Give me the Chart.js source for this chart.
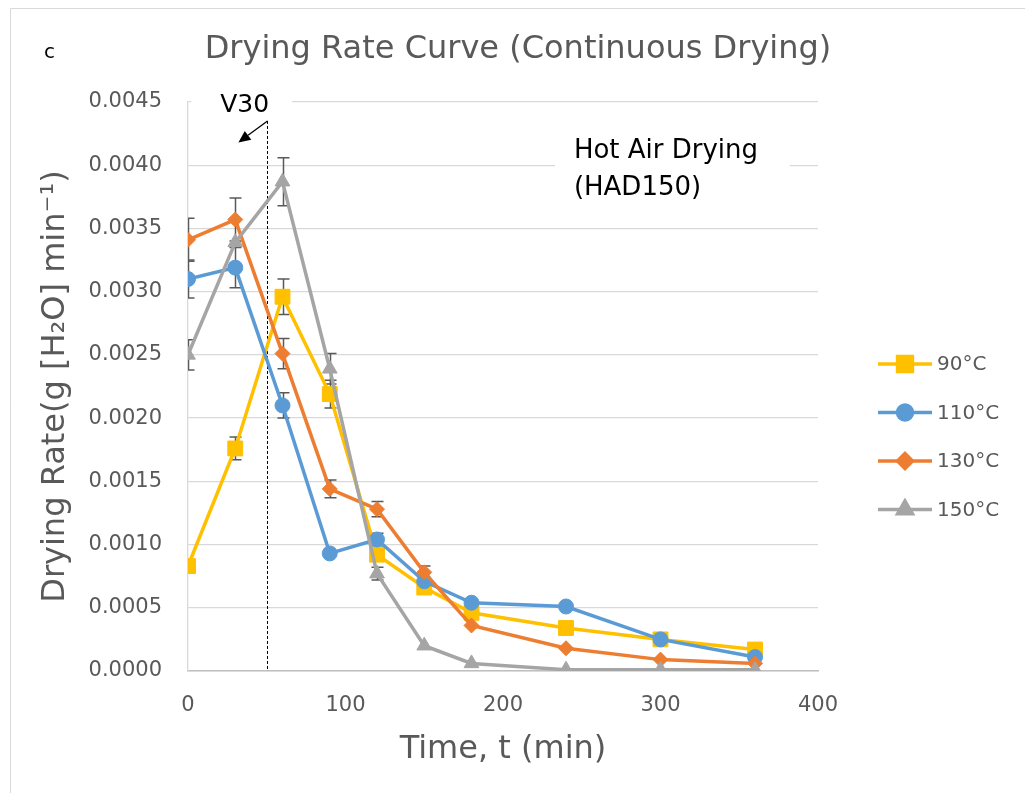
<!DOCTYPE html>
<html>
<head>
<meta charset="utf-8">
<title>Drying Rate Curve</title>
<script src="https://cdn.jsdelivr.net/npm/chart.js@4.4.0/dist/chart.umd.min.js"></script>
<style>
  html, body { margin: 0; padding: 0; background: #fff; }
</style>
</head>
<body>
<canvas id="rateChart" width="1025" height="793"></canvas>
<script>
// --- datos ---
const tiempos = [0, 30, 60, 90, 120, 150, 180, 240, 300, 360];
const series = ['90°C', '110°C', '130°C', '150°C'];

const rate90  = [0.00083, 0.00176, 0.00296, 0.00219, 0.00092, 0.00066, 0.00046, 0.00034, 0.00025, 0.00017];
const rate110 = [0.00310, 0.00319, 0.00210, 0.00093, 0.00104, 0.00071, 0.00054, 0.00051, 0.00025, 0.00011];
const rate130 = [0.00341, 0.00357, 0.00251, 0.00144, 0.00128, 0.00078, 0.00036, 0.00018, 0.00009, 0.00006];
const rate150 = [0.00250, 0.00339, 0.00387, 0.00239, 0.00077, 0.00020, 0.00006, 0.00001, 0.00001, 0.00001];

// barras de error (+/-)
const err90  = [0, 0.00009, 0.00014, 0.00011, 0, 0, 0, 0, 0, 0];
const err110 = [0.00015, 0.00016, 0.00010, 0, 0.00005, 0, 0, 0, 0, 0];
const err130 = [0.00017, 0.00017, 0.00012, 0.00007, 0.00006, 0.00005, 0, 0, 0, 0];
const err150 = [0.00012, 0, 0.00019, 0.00012, 0.00005, 0, 0, 0, 0, 0];

const xTicks = [0, 100, 200, 300, 400];
const yTicks = [0, 0.0005, 0.001, 0.0015, 0.002, 0.0025, 0.003, 0.0035, 0.004, 0.0045];

const TITULO = 'Drying Rate Curve (Continuous Drying)';
const TEXT_GREY = '#595959';
Chart.defaults.font.family = "'DejaVu Sans', Verdana, sans-serif";
Chart.defaults.color = TEXT_GREY;

function toPoints(values) {
    return tiempos.map((t, i) => ({ x: t, y: values[i] }));
}

function serie(label, values, errors, color, pointStyle, radius, order) {
    return {
        label: label,
        data: toPoints(values),
        errors: errors,
        borderColor: color,
        backgroundColor: color,
        borderWidth: 3.5,
        pointStyle: pointStyle,
        pointRadius: radius,
        pointBorderWidth: 1,
        pointBackgroundColor: color,
        pointBorderColor: color,
        order: order
    };
}

// fondo blanco, marco, título y letra del panel
const marcoPlugin = {
    id: 'marco',
    beforeDraw(chart) {
        const ctx = chart.ctx;
        ctx.save();
        ctx.fillStyle = '#fff';
        ctx.fillRect(0, 0, chart.width, chart.height);
        ctx.strokeStyle = '#d9d9d9';
        ctx.lineWidth = 1;
        ctx.beginPath();
        ctx.moveTo(10.5, chart.height);
        ctx.lineTo(10.5, 8.5);
        ctx.lineTo(chart.width, 8.5);
        ctx.stroke();
        ctx.textBaseline = 'middle';
        ctx.fillStyle = '#000';
        ctx.font = "20px 'DejaVu Sans'";
        ctx.fillText('c', 44, 53);
        ctx.fillStyle = TEXT_GREY;
        ctx.font = "32px 'DejaVu Sans'";
        ctx.textAlign = 'center';
        ctx.fillText(TITULO, 518, 50);
        ctx.restore();
    }
};

// anotaciones: línea V30, flecha y cuadros de texto
const anotaciones = {
    v30: { x: 50, yTop: 0.00435 },
    arrowTo: { x: 32, y: 0.00418 },
    v30Label: { x: 36, y: 0.00447, box: [2, 66, 0.00456, 0.00440] },
    had: { x: 245, y1: 0.00411, y2: 0.00382, box: [233, 382, 0.00432, 0.00370] }
};

const anotacionesPlugin = {
    id: 'anotaciones',
    beforeDatasetsDraw(chart) {
        const ctx = chart.ctx;
        const xs = chart.scales.x, ys = chart.scales.y;
        const a = anotaciones;
        ctx.save();

        // cajas blancas
        ctx.fillStyle = '#fff';
        [a.v30Label.box, a.had.box].forEach(b => {
            const x1 = xs.getPixelForValue(b[0]), x2 = xs.getPixelForValue(b[1]);
            const y1 = ys.getPixelForValue(b[2]), y2 = ys.getPixelForValue(b[3]);
            ctx.fillRect(x1, y1, x2 - x1, y2 - y1);
        });

        // línea punteada
        const lx = Math.round(xs.getPixelForValue(a.v30.x)) + 0.5;
        const top = ys.getPixelForValue(a.v30.yTop);
        ctx.strokeStyle = '#000';
        ctx.lineWidth = 1;
        ctx.setLineDash([3, 2]);
        ctx.beginPath();
        ctx.moveTo(lx, top);
        ctx.lineTo(lx, ys.getPixelForValue(0));
        ctx.stroke();
        ctx.setLineDash([]);

        // flecha
        const ax = xs.getPixelForValue(a.arrowTo.x), ay = ys.getPixelForValue(a.arrowTo.y);
        const ang = Math.atan2(ay - top, ax - lx);
        const len = 12, half = 5.5;
        const bx = ax - Math.cos(ang) * len, by = ay - Math.sin(ang) * len;
        ctx.lineWidth = 1.3;
        ctx.beginPath();
        ctx.moveTo(lx, top);
        ctx.lineTo(bx, by);
        ctx.stroke();
        ctx.fillStyle = '#000';
        ctx.beginPath();
        ctx.moveTo(ax, ay);
        ctx.lineTo(bx - Math.sin(ang) * half, by + Math.cos(ang) * half);
        ctx.lineTo(bx + Math.sin(ang) * half, by - Math.cos(ang) * half);
        ctx.closePath();
        ctx.fill();

        // textos
        ctx.fillStyle = '#000';
        ctx.textBaseline = 'middle';
        ctx.font = "25px 'DejaVu Sans'";
        ctx.textAlign = 'center';
        ctx.fillText('V30', xs.getPixelForValue(a.v30Label.x), ys.getPixelForValue(a.v30Label.y));
        ctx.font = "26px 'DejaVu Sans'";
        ctx.textAlign = 'left';
        ctx.fillText('Hot Air Drying', xs.getPixelForValue(a.had.x), ys.getPixelForValue(a.had.y1));
        ctx.fillText('(HAD150)', xs.getPixelForValue(a.had.x), ys.getPixelForValue(a.had.y2));
        ctx.restore();
    }
};

// barras de error (recortadas al área del gráfico, como en Excel)
const erroresPlugin = {
    id: 'errores',
    beforeDatasetsDraw(chart) {
        const ctx = chart.ctx;
        const xs = chart.scales.x, ys = chart.scales.y;
        const area = chart.chartArea;
        ctx.save();
        ctx.beginPath();
        ctx.rect(area.left, area.top - 20, area.right - area.left, area.bottom - area.top + 20);
        ctx.clip();
        ctx.strokeStyle = '#595959';
        ctx.lineWidth = 1.5;
        chart.data.datasets.forEach(ds => {
            ds.data.forEach((p, i) => {
                const e = ds.errors[i];
                if (!e) return;
                const x = Math.round(xs.getPixelForValue(p.x)) + 0.5;
                const yA = ys.getPixelForValue(p.y + e);
                const yB = ys.getPixelForValue(p.y - e);
                ctx.beginPath();
                ctx.moveTo(x, yA); ctx.lineTo(x, yB);
                ctx.moveTo(x - 6, yA); ctx.lineTo(x + 6, yA);
                ctx.moveTo(x - 6, yB); ctx.lineTo(x + 6, yB);
                ctx.stroke();
            });
        });
        ctx.restore();
    }
};

// leyenda a la derecha (línea + marcador)
const leyendaPlugin = {
    id: 'leyenda',
    afterDraw(chart) {
        const ctx = chart.ctx;
        ctx.save();
        ctx.font = "20px 'DejaVu Sans'";
        ctx.textBaseline = 'middle';
        chart.data.datasets.forEach((ds, i) => {
            const y = 364 + i * 48.5;
            ctx.strokeStyle = ds.borderColor;
            ctx.lineWidth = 3.5;
            ctx.beginPath();
            ctx.moveTo(878, y); ctx.lineTo(932, y);
            ctx.stroke();
            ctx.fillStyle = ds.borderColor;
            Chart.helpers.drawPoint(ctx, {
                pointStyle: ds.pointStyle, radius: ds.pointRadius, rotation: 0, borderWidth: 1
            }, 905, y);
            ctx.fillStyle = TEXT_GREY;
            ctx.fillText(ds.label, 937, y + 1);
        });
        ctx.restore();
    }
};

function inicializarGrafico() {
    const canvas = document.getElementById('rateChart');
    new Chart(canvas, {
        type: 'line',
        data: {
            datasets: [
                serie(series[0], rate90, err90, '#FFC000', 'rect', 10.5, 4),
                serie(series[1], rate110, err110, '#5B9BD5', 'circle', 7.5, 3),
                serie(series[2], rate130, err130, '#ED7D31', 'rectRot', 7.5, 2),
                serie(series[3], rate150, err150, '#A5A5A5', 'triangle', 8.5, 1)
            ]
        },
        options: {
            responsive: false,
            animation: false,
            layout: { padding: { left: 0, right: 207, top: 102, bottom: 0 } },
            plugins: {
                legend: { display: false },
                tooltip: { enabled: false },
                title: { display: false }
            },
            scales: {
                x: {
                    type: 'linear',
                    min: 0, max: 400,
                    afterBuildTicks: s => { s.ticks = xTicks.map(v => ({ value: v })); },
                    afterFit: s => { s.height = 122; },
                    grid: { display: false, drawTicks: false },
                    border: { display: true, color: '#bfbfbf', width: 1.5 },
                    ticks: { padding: 22, color: TEXT_GREY, font: { size: 21 } },
                    title: {
                        display: true,
                        text: 'Time, t (min)',
                        color: TEXT_GREY,
                        font: { size: 32 },
                        padding: { top: 0, bottom: 24 }
                    }
                },
                y: {
                    min: 0, max: 0.0045,
                    afterBuildTicks: s => { s.ticks = yTicks.map(v => ({ value: v })); },
                    afterFit: s => { s.width = 188; },
                    grid: { color: '#d9d9d9', lineWidth: 1.3, drawTicks: false },
                    border: { display: true, color: '#d9d9d9', width: 1.3 },
                    ticks: {
                        padding: 26,
                        color: TEXT_GREY,
                        font: { size: 21 },
                        callback: v => v.toFixed(4)
                    },
                    title: {
                        display: true,
                        text: 'Drying Rate(g [H₂O] min⁻¹)',
                        color: TEXT_GREY,
                        font: { size: 32 },
                        padding: { top: 36, bottom: 0 }
                    }
                }
            }
        },
        plugins: [marcoPlugin, anotacionesPlugin, erroresPlugin, leyendaPlugin]
    });
}

document.addEventListener('DOMContentLoaded', inicializarGrafico);
</script>
</body>
</html>
